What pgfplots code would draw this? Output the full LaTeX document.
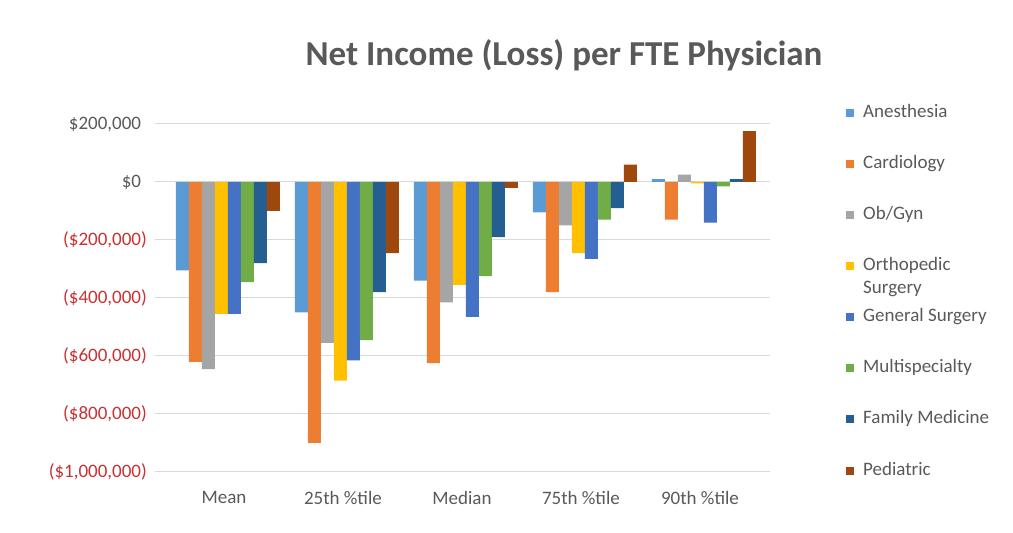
\documentclass[border=0pt]{standalone}
\usepackage{fontspec}
\setmainfont{Carlito}
\usepackage{pgfplots}
\pgfplotsset{compat=1.18}
\definecolor{txtgray}{HTML}{595959}
\definecolor{negred}{HTML}{C83232}
\definecolor{gridgray}{HTML}{D9D9D9}
\definecolor{cA}{HTML}{5B9BD5}
\definecolor{cB}{HTML}{ED7D31}
\definecolor{cC}{HTML}{A5A5A5}
\definecolor{cD}{HTML}{FFC000}
\definecolor{cE}{HTML}{4472C4}
\definecolor{cF}{HTML}{70AD47}
\definecolor{cG}{HTML}{255E91}
\definecolor{cH}{HTML}{9E480E}
\begin{document}
\begin{tikzpicture}
\useasboundingbox (0,0) rectangle (1013pt,533pt);
\node[anchor=base, font=\fontsize{35}{40}\selectfont\bfseries, text=txtgray] at (564pt,467pt) {Net Income (Loss) per FTE Physician};
\begin{axis}[
  at={(155pt,61pt)}, anchor=south west,
  width=615pt, height=348pt, scale only axis,
  xmin=-0.613, xmax=4.555,
  ymin=-1000000, ymax=200000,
  ybar=0pt, bar width=13pt,
  axis line style={draw=none},
  tick style={draw=none},
  ymajorgrids, grid style={gridgray, line width=1pt},
  xtick={0,1,2,3,4},
  xticklabels={Mean, 25th \%tile, Median, 75th \%tile, 90th \%tile},
  xticklabel style={font=\fontsize{19}{22}\selectfont, text=txtgray, yshift=-12pt, xshift=-4pt},
  ytick={-1000000,-800000,-600000,-400000,-200000,0,200000},
  yticklabels={{\textcolor{negred}{(\$1,000,000)}},{\textcolor{negred}{(\$800,000)}},{\textcolor{negred}{(\$600,000)}},{\textcolor{negred}{(\$400,000)}},{\textcolor{negred}{(\$200,000)}},{\$0\phantom{)}},{\$200,000\phantom{)}}},
  yticklabel style={font=\fontsize{19}{22}\selectfont, text=txtgray, anchor=east, inner sep=0pt, xshift=-8pt},
  scaled y ticks=false,
  legend image code/.code={\path[#1] (0pt,-4pt) rectangle (8pt,4pt);},
  legend cell align=left,
  legend style={at={(rel axis cs:1.1236,1.057)}, anchor=north west, draw=none, fill=none,
    inner sep=0pt, row sep=34.1pt, column sep=9pt,
    font=\fontsize{19}{22}\selectfont, text=txtgray,
    nodes={inner sep=0pt, text height=13pt, text depth=4pt}},
]
\addplot[fill=cA, draw=none] coordinates {(0,-305000) (1,-450000) (2,-340000) (3,-105000) (4,10000)};
\addplot[fill=cB, draw=none] coordinates {(0,-620000) (1,-900000) (2,-625000) (3,-380000) (4,-130000)};
\addplot[fill=cC, draw=none] coordinates {(0,-645000) (1,-555000) (2,-415000) (3,-150000) (4,25000)};
\addplot[fill=cD, draw=none] coordinates {(0,-455000) (1,-685000) (2,-355000) (3,-245000) (4,-5000)};
\addplot[fill=cE, draw=none] coordinates {(0,-455000) (1,-615000) (2,-465000) (3,-265000) (4,-140000)};
\addplot[fill=cF, draw=none] coordinates {(0,-345000) (1,-545000) (2,-325000) (3,-130000) (4,-15000)};
\addplot[fill=cG, draw=none] coordinates {(0,-280000) (1,-380000) (2,-190000) (3,-90000) (4,10000)};
\addplot[fill=cH, draw=none] coordinates {(0,-100000) (1,-245000) (2,-20000) (3,60000) (4,175000)};
\legend{Anesthesia, Cardiology, Ob/Gyn, {\smash{\rlap{\raisebox{-23pt}{Surgery}}}Orthopedic}, General Surgery, Multispecialty, Family Medicine, Pediatric}
\end{axis}
\end{tikzpicture}
\end{document}
